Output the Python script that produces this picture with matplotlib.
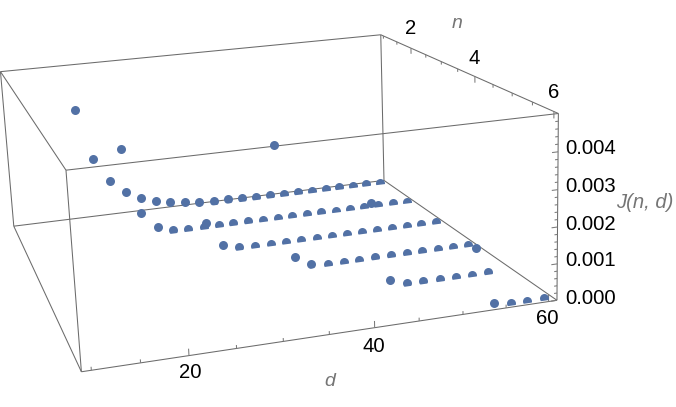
import numpy as np
import matplotlib
matplotlib.use("Agg")
import matplotlib.pyplot as plt
from matplotlib.patches import Polygon

W, H = 676, 407

# ---- data (z values in units of 1e-3) ----
d_n1 = list(range(18, 61, 2))
z_n1 = [3.6, 1.97, 1.16, .75, .49, .34, .25, .17, .13, .10, .08, .07, .06, .05, .04, .035, .03, .025, .02, .015, .01, .01]
d_n2 = list(range(22, 61, 2))
z_n2 = [2.8, .72, .2, .06, .03, .03, .02, .02, .02, .02, .02, .02, .02, .02, .01, .01, .01, .01, .01, .01]
d_n3 = list(range(30, 61, 2))
z_n3 = [.92, .18, .04, .02, .02, .02, .02, .02, .02, .01, .01, .01, .01, .01, .01, .01]
d_n4 = list(range(36, 61, 2))
z_n4 = [3.68, .37, .08, .03, .02, .02, .02, .02, .01, .01, .01, .01, .01]
d_n5 = list(range(44, 59, 2))
z_n5 = [2.42, .19, .03, .02, .02, .01, .01, .01]
d_n6 = list(range(52, 61, 2))
z_n6 = [1.65, .1, .03, .01, .01]
rows = [(1, d_n1, z_n1), (2, d_n2, z_n2), (3, d_n3, z_n3),
        (4, d_n4, z_n4), (5, d_n5, z_n5), (6, d_n6, z_n6)]

d_major = [20, 40, 60]
d_minor = [10, 15, 25, 30, 35, 45, 50, 55]
n_major = [2, 4, 6]
n_minor = [1, 1.5, 2.5, 3, 3.5, 4.5, 5, 5.5]
z_major = [0, 1, 2, 3, 4]
z_minor = [.2, .4, .6, .8, 1.2, 1.4, 1.6, 1.8, 2.2, 2.4, 2.6, 2.8, 3.2, 3.4, 3.6, 3.8, 4.2, 4.4, 4.6, 4.8]

# box limits
D0, D1, N0, N1, Z0, Z1 = 9.0, 61.0, 0.9, 6.1, 0.0, 5.0

# ---- camera calibration: where the box corners of the frame sit on the canvas ----
calib = {
    (D0, N0, Z1): (0, 71.7), (D1, N0, Z1): (381.7, 35), (D0, N1, Z1): (66, 170), (D1, N1, Z1): (557.7, 113.3),
    (D0, N0, Z0): (14, 226.3), (D1, N0, Z0): (383.3, 180), (D0, N1, Z0): (81.7, 371.7), (D1, N1, Z0): (557.3, 300.7),
}
S = np.diag([1 / 60, 1 / 6, 1 / 5, 1.0])
A = []
for (x, y, z), (px, py) in calib.items():
    X = S @ np.array([x, y, z, 1.0])
    u, v = px / W * 2 - 1, 1 - py / H * 2
    A.append(np.r_[X, 0, 0, 0, 0, -u * X])
    A.append(np.r_[0, 0, 0, 0, X, -v * X])
P = np.linalg.svd(np.array(A))[2][-1].reshape(3, 4)
P = P / (P[2] @ S @ np.array([35, 3.5, 2.5, 1.0]))
M = np.vstack([P[0], P[1], [0, -0.5, 0.01, 0], P[2]]) @ S


def project(x, y, z):
    v = M @ np.array([x, y, z, 1.0])
    return v[0] / v[3], v[1] / v[3]


plt.rcParams['font.family'] = ['Liberation Sans', 'DejaVu Sans']
fig = plt.figure(figsize=(W / 100, H / 100), dpi=100)
ax = fig.add_axes([0, 0, 1, 1], projection='3d')
ax.set_axis_off()
ax.computed_zorder = False
ax.apply_aspect = lambda position=None: None


def fixed_proj():
    ax.viewLim.intervalx = (-1, 1)
    ax.viewLim.intervaly = (-1, 1)
    return M


ax.get_proj = fixed_proj
fixed_proj()

FRAME = '#6b6b6b'
LW = 0.75


def seg(a, b, lw=LW, color=FRAME):
    ax.plot([a[0], b[0]], [a[1], b[1]], [a[2], b[2]], color=color, lw=lw, zorder=1, solid_capstyle='butt')


for n in (N0, N1):
    for z in (Z0, Z1):
        seg((D0, n, z), (D1, n, z))
for d in (D0, D1):
    for z in (Z0, Z1):
        seg((d, N0, z), (d, N1, z))
for d in (D0, D1):
    for n in (N0, N1):
        seg((d, n, Z0), (d, n, Z1))

TICK = '#7a7a7a'
for d in d_major:
    seg((d, N1, Z0), (d, N1, Z0 + .18), color=TICK)
for d in d_minor:
    seg((d, N1, Z0), (d, N1, Z0 + .09), color=TICK)
for n in n_major:
    seg((D1, n, Z1), (D1, n, Z1 - .18), color=TICK)
for n in n_minor:
    seg((D1, n, Z1), (D1, n, Z1 - .09), color=TICK)
for z in z_major:
    seg((D1, N1, z), (D1 - .7, N1, z), color=TICK)
for z in z_minor:
    seg((D1, N1, z), (D1 - .35, N1, z), color=TICK)

DOT = '#5271a5'
FLOOR_DROP = 0.06
for i, (n, ds, zs) in enumerate(rows):
    coll = ax.scatter(ds, [n] * len(ds), zs, s=42, c=DOT, linewidths=0, depthshade=False, zorder=3 + i)
    clip = [project(0, n, Z0 - FLOOR_DROP), project(75, n, Z0 - FLOOR_DROP), project(75, n, 8), project(0, n, 8)]
    coll.set_clip_path(Polygon(clip, closed=True, transform=ax.transData))


def label(px, py, s, size=14.6, color='black', ha='center', style='normal'):
    ax.text2D(px / W, 1 - py / H, s, transform=ax.transAxes, fontsize=size, color=color, ha=ha, va='center', fontstyle=style)


for v, (x, y) in zip(d_major, [(190, 373), (374, 346), (547, 319)]):
    label(x, y, str(v))
for v, (x, y) in zip(n_major, [(411, 29), (474, 58), (554, 93)]):
    label(x, y, str(v))
for v, y in zip(z_major, [298, 261, 224, 186, 148]):
    label(591, y, f"{v / 1000:.3f}")
GREY = '#757575'
label(330, 381, 'd', 14, GREY, style='italic')
label(457, 23, 'n', 14, GREY, style='italic')
label(645, 202, 'J(n, d)', 14.6, GREY, style='italic')

fig.savefig('out.png', dpi=100)
